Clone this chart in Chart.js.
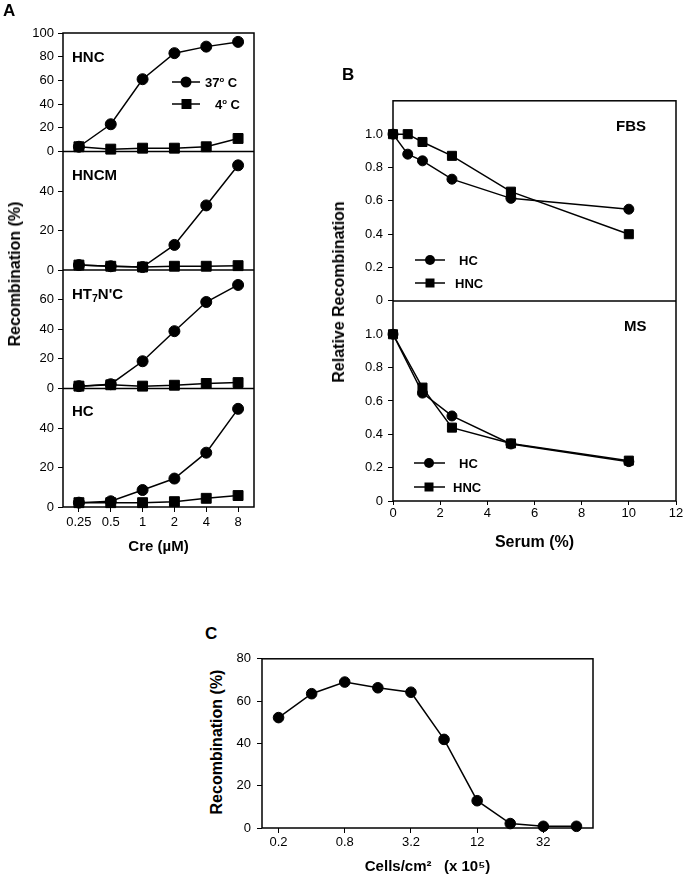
<!DOCTYPE html>
<html><head><meta charset="utf-8">
<script src="https://cdn.jsdelivr.net/npm/chart.js@4.4.1/dist/chart.umd.min.js"></script>
<style>
html,body{margin:0;padding:0;background:#fff;}
body{width:685px;height:878px;position:relative;overflow:hidden;font-family:"Liberation Sans",Arial,sans-serif;color:#000;}
canvas{position:absolute;}
.t{position:absolute;white-space:nowrap;line-height:1;transform:translateY(-50%);font-weight:bold;}
.r{position:absolute;white-space:nowrap;line-height:1;transform:translate(-50%,-50%) rotate(-90deg);font-weight:bold;}
sup.d{font-size:0.6em;vertical-align:0.55em;line-height:0;}
sub{font-size:0.7em;vertical-align:-0.3em;line-height:0;}
</style></head>
<body>
<canvas id="cA" width="270" height="560" style="left:0;top:0"></canvas>
<canvas id="cB" width="340" height="470" style="left:345px;top:88px"></canvas>
<canvas id="cC" width="380" height="233" style="left:225px;top:645px"></canvas>

<div class="t" style="left:3px;top:10px;font-size:17px">A</div>
<div class="t" style="left:72px;top:56px;font-size:15px">HNC</div>
<div class="t" style="left:72px;top:174px;font-size:15px">HNCM</div>
<div class="t" style="left:72px;top:293px;font-size:15px">HT<sub>7</sub>N'C</div>
<div class="t" style="left:72px;top:410px;font-size:15px">HC</div>
<div class="t" style="left:205px;top:82px;font-size:13px">37<sup class="d">o</sup> C</div>
<div class="t" style="left:215px;top:104px;font-size:13px">4<sup class="d">o</sup> C</div>
<div class="r" style="left:15px;top:274px;font-size:16px">Recombination (%)</div>

<div class="t" style="left:342px;top:74px;font-size:17px">B</div>
<div class="t" style="left:616px;top:125px;font-size:15px">FBS</div>
<div class="t" style="left:624px;top:325px;font-size:15px">MS</div>
<div class="t" style="left:459px;top:260px;font-size:13px">HC</div>
<div class="t" style="left:455px;top:283px;font-size:13px">HNC</div>
<div class="t" style="left:459px;top:463px;font-size:13px">HC</div>
<div class="t" style="left:453px;top:487px;font-size:13px">HNC</div>
<div class="r" style="left:339px;top:292px;font-size:16px">Relative Recombination</div>

<div class="t" style="left:205px;top:633px;font-size:17px">C</div>
<div class="r" style="left:217px;top:742px;font-size:16px">Recombination (%)</div>

<script>
// ---------- Panel A data ----------
const creLabels = ['0.25', '0.5', '1', '2', '4', '8'];
const hnc37  = [4, 23, 61, 83, 88.5, 92.5];
const hnc4   = [4, 2, 2.8, 2.8, 4, 11];
const hncm37 = [2.5, 1.9, 1.5, 12.7, 32.7, 53];
const hncm4  = [2.5, 1.9, 1.5, 1.9, 1.9, 2.2];
const ht37   = [1.6, 2.9, 18.4, 38.7, 58.4, 69.9];
const ht4    = [1.6, 2.5, 1.6, 2.2, 3.4, 4];
const hc37   = [2.2, 2.9, 8.6, 14.4, 27.5, 49.7];
const hc4    = [2.2, 2.2, 2.2, 2.7, 4.4, 5.8];

// ---------- Panel B data ----------
const fbsSerum = [0, 0.625, 1.25, 2.5, 5, 10];
const fbsHC    = [1.0, 0.88, 0.84, 0.73, 0.615, 0.55];
const fbsHNC   = [1.0, 1.0, 0.953, 0.87, 0.655, 0.40];
const msSerum  = [0, 1.25, 2.5, 5, 10];
const msHC     = [1.0, 0.647, 0.51, 0.342, 0.236];
const msHNC    = [1.0, 0.68, 0.44, 0.345, 0.242];

// ---------- Panel C data ----------
const cellsTickLabels = ['0.2', '0.8', '3.2', '12', '32'];
const cellsRecomb = [52.2, 63.5, 69, 66.3, 64.2, 41.9, 12.9, 2.1, 0.8, 0.8];

Chart.defaults.font.family = '"Liberation Sans", Arial, sans-serif';
Chart.defaults.font.size = 13;
Chart.defaults.color = '#000';
Chart.defaults.animation = false;

const framePlugin = {
  id: 'frame',
  beforeDatasetsDraw(chart) {
    const {ctx, chartArea: a} = chart;
    ctx.save();
    ctx.strokeStyle = '#000';
    ctx.lineWidth = 1.5;
    ctx.strokeRect(a.left, a.top, a.right - a.left, a.bottom - a.top);
    Object.values(chart.scales).forEach(s => {
      if (s.axis === 'y' && s.bottom < a.bottom - 1) {
        ctx.beginPath();
        ctx.moveTo(a.left, s.bottom);
        ctx.lineTo(a.right, s.bottom);
        ctx.stroke();
      }
    });
    ctx.restore();
  },
  afterDraw(chart, args, opts) {
    const items = (opts && opts.items) || [];
    const ox = opts.ox || 0, oy = opts.oy || 0;
    const ctx = chart.ctx;
    ctx.save();
    ctx.strokeStyle = '#000';
    ctx.fillStyle = '#000';
    ctx.lineWidth = 1.5;
    items.forEach(it => {
      const y = it.y - oy;
      ctx.beginPath();
      ctx.moveTo(it.x1 - ox, y);
      ctx.lineTo(it.x2 - ox, y);
      ctx.stroke();
      const mx = it.mx - ox;
      ctx.beginPath();
      if (it.style === 'circle') {
        ctx.arc(mx, y, it.r, 0, Math.PI * 2);
      } else {
        ctx.rect(mx - it.r, y - it.r, it.r * 2, it.r * 2);
      }
      ctx.fill();
    });
    ctx.restore();
  }
};

function ds(label, data, yAxisID, style, rc, rs) {
  return {
    label, data, yAxisID,
    borderColor: '#000', backgroundColor: '#000', borderWidth: 1.5,
    pointStyle: style, pointRadius: style === 'circle' ? rc : rs,
    pointBorderWidth: 1, pointBackgroundColor: '#000', pointBorderColor: '#000',
    pointHoverRadius: style === 'circle' ? rc : rs,
    tension: 0, clip: false
  };
}
function xy(xs, ys) { return xs.map((x, i) => ({x, y: ys[i]})); }

const gridTicks = {display: true, drawOnChartArea: false, drawTicks: true, tickLength: 5, color: '#000', lineWidth: 1, offset: false};
const noBorder = {display: false};
const dropTop = s => { s.ticks = s.ticks.filter(t => t.value < s.max - 1e-6); };

function yStackA(weight, max, top) {
  return {
    type: 'linear', position: 'left', stack: 'a', stackWeight: 1, weight,
    min: 0, max,
    ticks: {stepSize: 20, padding: 4, font: {size: 13}, autoSkip: false},
    grid: gridTicks, border: noBorder,
    afterFit: s => { s.width = 63; },
    afterBuildTicks: top ? undefined : dropTop
  };
}

// ---------- Panel A ----------
new Chart(document.getElementById('cA'), {
  type: 'line',
  data: {
    labels: creLabels,
    datasets: [
      ds('HNC 4°C', hnc4, 'yHNC', 'rect', 5.5, 7),
      ds('HNC 37°C', hnc37, 'yHNC', 'circle', 5.5, 7),
      ds('HNCM 4°C', hncm4, 'yHNCM', 'rect', 5.5, 7),
      ds('HNCM 37°C', hncm37, 'yHNCM', 'circle', 5.5, 7),
      ds("HT7N'C 4°C", ht4, 'yHT', 'rect', 5.5, 7),
      ds("HT7N'C 37°C", ht37, 'yHT', 'circle', 5.5, 7),
      ds('HC 4°C', hc4, 'yHC', 'rect', 5.5, 7),
      ds('HC 37°C', hc37, 'yHC', 'circle', 5.5, 7)
    ]
  },
  options: {
    responsive: false,
    layout: {padding: {top: 33, right: 16, left: 0, bottom: 0}, autoPadding: false},
    plugins: {
      legend: {display: false}, tooltip: {enabled: false},
      frame: {ox: 0, oy: 0, items: [
        {x1: 172, x2: 200, y: 82, mx: 186, style: 'circle', r: 5.5},
        {x1: 172, x2: 200, y: 104, mx: 186.5, style: 'rect', r: 5}
      ]}
    },
    scales: {
      x: {
        type: 'category', position: 'bottom', offset: true,
        ticks: {padding: 3, font: {size: 13}, maxRotation: 0, autoSkip: false},
        grid: gridTicks, border: noBorder,
        title: {display: true, text: 'Cre (µM)', font: {size: 15, weight: 'bold'}, padding: {top: 0, bottom: 4}},
        afterFit: s => { s.height = 53; }
      },
      yHNC: yStackA(4, 100, true),
      yHNCM: yStackA(3, 60, false),
      yHT: yStackA(2, 80, false),
      yHC: yStackA(1, 60, false)
    }
  },
  plugins: [framePlugin]
});

// ---------- Panel B ----------
function yStackB(weight) {
  return {
    type: 'linear', position: 'left', stack: 'b', stackWeight: 1, weight,
    min: 0, max: 1.2,
    ticks: {stepSize: 0.2, padding: 5, font: {size: 13}, autoSkip: false, callback: v => (Math.abs(v) < 1e-9 ? '0' : v.toFixed(1))},
    grid: gridTicks, border: noBorder,
    afterFit: s => { s.width = 48; },
    afterBuildTicks: s => { s.ticks = s.ticks.filter(t => t.value < 1.1); }
  };
}
new Chart(document.getElementById('cB'), {
  type: 'line',
  data: {
    datasets: [
      ds('FBS HC', xy(fbsSerum, fbsHC), 'yFBS', 'circle', 5, 6.4),
      ds('FBS HNC', xy(fbsSerum, fbsHNC), 'yFBS', 'rect', 5, 6.4),
      ds('MS HC', xy(msSerum, msHC), 'yMS', 'circle', 5, 6.4),
      ds('MS HNC', xy(msSerum, msHNC), 'yMS', 'rect', 5, 6.4)
    ]
  },
  options: {
    responsive: false,
    layout: {padding: {top: 10, right: 9, left: 0, bottom: 0}, autoPadding: false},
    plugins: {
      legend: {display: false}, tooltip: {enabled: false},
      frame: {ox: 345, oy: 88, items: [
        {x1: 415, x2: 445, y: 260, mx: 430, style: 'circle', r: 5},
        {x1: 415, x2: 445, y: 283, mx: 430, style: 'rect', r: 4.5},
        {x1: 414, x2: 445, y: 463, mx: 429, style: 'circle', r: 5},
        {x1: 414, x2: 445, y: 487, mx: 429, style: 'rect', r: 4.5}
      ]}
    },
    scales: {
      x: {
        type: 'linear', position: 'bottom', min: 0, max: 12,
        ticks: {stepSize: 2, padding: 1, font: {size: 13}, maxRotation: 0, autoSkip: false},
        grid: {...gridTicks, tickLength: 4}, border: noBorder,
        title: {display: true, text: 'Serum (%)', font: {size: 16, weight: 'bold'}, padding: {top: 0, bottom: 6}},
        afterFit: s => { s.height = 57; }
      },
      yFBS: yStackB(2),
      yMS: yStackB(1)
    }
  },
  plugins: [framePlugin]
});

// ---------- Panel C ----------
new Chart(document.getElementById('cC'), {
  type: 'line',
  data: {
    datasets: [
      ds('Recombination', cellsRecomb.map((y, i) => ({x: i, y})), 'y', 'circle', 5.3, 6)
    ]
  },
  options: {
    responsive: false,
    layout: {padding: {top: 12, right: 12, left: 0, bottom: 0}, autoPadding: false},
    plugins: {legend: {display: false}, tooltip: {enabled: false}, frame: {items: []}},
    scales: {
      x: {
        type: 'linear', position: 'bottom', min: -0.5, max: 9.5,
        afterBuildTicks: s => { s.ticks = cellsTickLabels.map((_, i) => ({value: i * 2})); },
        ticks: {padding: 2, font: {size: 13}, maxRotation: 0, autoSkip: false, callback: (v, i) => cellsTickLabels[i]},
        grid: gridTicks, border: noBorder,
        title: {display: true, text: 'Cells/cm²   (x 10⁵)', font: {size: 15, weight: 'bold'}, padding: {top: 0, bottom: 2}},
        afterFit: s => { s.height = 50; }
      },
      y: {
        type: 'linear', position: 'left', min: 0, max: 80,
        ticks: {stepSize: 20, padding: 6, font: {size: 13}, autoSkip: false},
        grid: gridTicks, border: noBorder,
        afterFit: s => { s.width = 37; }
      }
    }
  },
  plugins: [framePlugin]
});
</script>
</body></html>
